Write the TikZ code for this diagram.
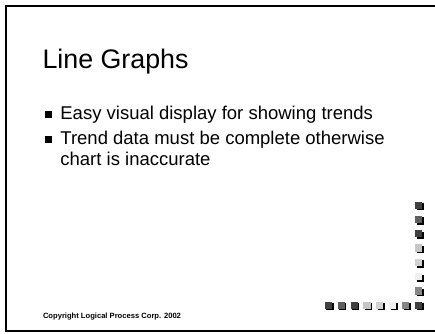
\documentclass[tikz,border=0pt]{standalone}
\usepackage{fontspec}
\setmainfont{Liberation Sans}
\begin{document}
\begin{tikzpicture}[x=1pt,y=-1pt,
  frameline/.style={line width=2pt,black},
  titletext/.style={anchor=base west,inner sep=0pt,font=\fontsize{26.8}{30}\selectfont},
  bodytext/.style={anchor=base west,inner sep=0pt,font=\fontsize{18.5}{21}\selectfont,align=left},
  smalltext/.style={anchor=base west,inner sep=0pt,font=\bfseries\fontsize{7.6}{9}\selectfont},
  bulletbox/.style={fill=black}]
\definecolor{sqA}{HTML}{404040}
\definecolor{sqB}{HTML}{5E5E5E}
\definecolor{sqC}{HTML}{C6C6C6}
\definecolor{sqD}{HTML}{D2D2D2}
\definecolor{sqE}{HTML}{F0F0F0}
\definecolor{sqF}{HTML}{868686}
\useasboundingbox (0,0) rectangle (435,333);
\fill[white] (0,0) rectangle (435,333);

% slide frame, open on the right
\draw[frameline] (436,5.5) -- (5.5,5.5) -- (5.5,331.3) -- (436,331.3);

% title and bullet points
\node[titletext] (title) at (42.3,68.5) {Line Graphs};
\fill[bulletbox] (44.5,110.5) rectangle ++(7,7);
\node[bodytext] (b1) at (60.2,119.3) {Easy visual display for showing trends};
\fill[bulletbox] (44.5,135.5) rectangle ++(7,7);
% the base anchor of a two-line node sits on its last line
\node[bodytext] (b2) at (60.2,165.3) {Trend data must be complete otherwise\\chart is inaccurate};

\node[smalltext] (copy) at (42.8,318) {Copyright Logical Process Corp. 2002};

% corner decoration: shaded squares with drop shadows
\newcommand{\shadedsq}[3]{%
  \fill[black] (#1+1.6,#2+1.6) rectangle ++(7.2,7.2);
  \fill[#3] (#1,#2) rectangle ++(7.2,7.2);}
\foreach \c [count=\i from 0] in {sqA,sqB,sqA,sqC,sqD,sqE,sqF}{
  \shadedsq{415}{201.5+\i*14.3}{\c}
  \shadedsq{324.8+\i*12.86}{301.6}{\c}
}
\shadedsq{415}{301.6}{sqA}
\end{tikzpicture}
\end{document}
